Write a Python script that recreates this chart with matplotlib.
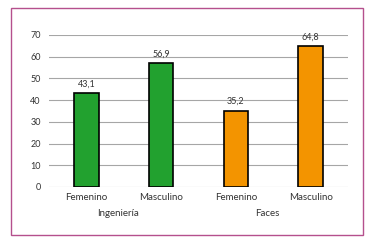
import matplotlib.pyplot as plt
from matplotlib.patches import Rectangle

categories = ["Femenino", "Masculino", "Femenino", "Masculino"]
groups = ["Ingeniería", "Faces"]
values = [43.1, 56.9, 35.2, 64.8]
value_labels = ["43,1", "56,9", "35,2", "64,8"]
colors = ["#22a12f", "#22a12f", "#f39400", "#f39400"]

plt.rcParams["font.family"] = ["Lato", "DejaVu Sans"]

fig = plt.figure(figsize=(3.69, 2.42), dpi=100)
ax = fig.add_axes([49 / 369, 1 - 187 / 242, (348 - 49) / 369, (187 - 35) / 242])

x = list(range(len(categories)))
ax.bar(x, values, width=0.33, color=colors, edgecolor="black", linewidth=1.2, zorder=3)
for xi, v, lab in zip(x, values, value_labels):
    ax.annotate(lab, (xi, v), xytext=(0, 3.5), textcoords="offset points",
                ha="center", va="bottom", fontsize=6.5, color="#333333")

ax.set_xlim(-0.5, 3.5)
ax.set_ylim(0, 70)
ax.set_yticks(range(0, 71, 10))
ax.yaxis.grid(True, color="#a6a6a6", linewidth=0.8, zorder=0)
for s in ax.spines.values():
    s.set_visible(False)
ax.tick_params(axis="y", length=0, labelsize=6.5, labelcolor="#333333", pad=6)
ax.set_xticks(x)
ax.set_xticklabels(categories)
ax.tick_params(axis="x", length=0, labelsize=7, labelcolor="#333333", pad=4)

for i, g in enumerate(groups):
    ax.text(2 * i + 0.42, -0.175, g, transform=ax.get_xaxis_transform(),
            ha="center", va="center", fontsize=7, color="#333333")

fig.patches.append(Rectangle((11 / 369, 1 - 235 / 242), 352 / 369, 227 / 242,
                             transform=fig.transFigure, fill=False,
                             edgecolor="#b5508d", linewidth=1.0))

fig.savefig("out.png", dpi=100)
